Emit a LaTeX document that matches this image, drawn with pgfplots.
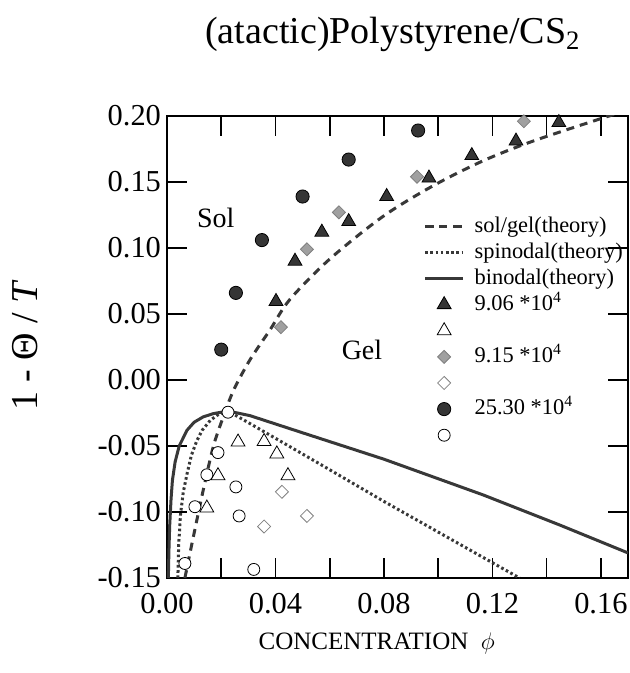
\documentclass[border=0pt]{standalone}
\usepackage{pgfplots}
\pgfplotsset{compat=1.18}
\usepackage{fontspec}
\setmainfont{Liberation Serif}
\definecolor{dk}{HTML}{353535}
\definecolor{ln}{HTML}{383838}
\definecolor{gd}{HTML}{A0A0A0}
\begin{document}
\begin{tikzpicture}
\path[use as bounding box] (-83.5pt,-47.5pt) rectangle (231.5pt,289pt);
\begin{axis}[
  scale only axis, width=230.5pt, height=231pt,
  xmin=0, xmax=0.17, ymin=-0.15, ymax=0.20,
  xtick={0,0.04,0.08,0.12,0.16},
  xticklabels={0.00,0.04,0.08,0.12,0.16},
  minor xtick={0.02,0.06,0.10,0.14},
  ytick={-0.15,-0.10,-0.05,0,0.05,0.10,0.15,0.20},
  yticklabels={-0.15,-0.10,-0.05,0.00,0.05,0.10,0.15,0.20},
  xtick pos=both, ytick pos=both, tick align=inside,
  major tick length=10pt, minor tick length=10pt,
  axis line style={line width=0.8pt},
  every tick/.style={line width=0.8pt, black},
  ticklabel style={font=\fontsize{15.2}{18}\selectfont},
  yticklabel style={xshift=0.5pt},
  xticklabel style={yshift=-4pt},
  title={(atactic)Polystyrene/CS\textsubscript{2}},
  title style={font=\fontsize{19}{22}\selectfont, at={(axis description cs:0.49,1.131)}, anchor=base},
  xlabel={CONCENTRATION\ \ $\phi$},
  xlabel style={font=\fontsize{12.5}{15}\selectfont, at={(axis description cs:0.455,-0.1558)}, anchor=base},
  ylabel={1 - Θ / \textit{T}},
  ylabel style={font=\fontsize{19}{22}\selectfont, at={(axis description cs:-0.308,0.504)}, anchor=center},
  legend image code/.code={\draw[mark repeat=2,mark phase=2,#1] plot coordinates {(0pt,0pt) (9.5pt,0pt) (19pt,0pt)};},
  legend style={draw=none, fill=none, at={(axis cs:0.0945,0.1245)}, anchor=north west,
    font=\fontsize{11.2}{13}\selectfont, inner sep=0pt, row sep=2.86pt, column sep=5pt,
    nodes={inner sep=0pt, text height=8pt, text depth=2.2pt}},
  legend cell align=left,
  clip=true,
]
% theory curves
\addplot[ln, line width=1.5pt, dash pattern=on 4pt off 3pt, smooth] coordinates {
(0.0066,-0.15)(0.0096,-0.12)(0.0133,-0.084)(0.017,-0.051)(0.0203,-0.0305)(0.0245,-0.008)(0.0306,0.0153)(0.038,0.038)(0.0453,0.061)(0.060,0.0916)(0.0797,0.124)(0.098,0.147)(0.1165,0.166)(0.135,0.181)(0.163,0.2)(0.17,0.204)};
\addlegendentry{sol/gel(theory)}
\addplot[ln, line width=1.5pt, dash pattern=on 1.3pt off 1.3pt] coordinates {
(0.004,-0.15)(0.0043,-0.125)(0.005,-0.1015)(0.006,-0.085)(0.0074,-0.071)(0.009,-0.057)(0.011,-0.046)(0.013,-0.038)(0.016,-0.0305)(0.019,-0.026)(0.0225,-0.0235)(0.0306,-0.033)(0.055,-0.062)(0.08,-0.092)(0.105,-0.121)(0.130,-0.150)};
\addlegendentry{spinodal(theory)}
\addplot[ln, line width=1.5pt] coordinates {
(0.0005,-0.15)(0.0007,-0.13)(0.001,-0.11)(0.0015,-0.09)(0.002,-0.076)(0.003,-0.062)(0.0045,-0.05)(0.0074,-0.038)(0.010,-0.032)(0.0133,-0.028)(0.017,-0.0255)(0.0225,-0.0235)(0.0306,-0.027)(0.05,-0.040)(0.08,-0.060)(0.1165,-0.087)(0.145,-0.110)(0.17,-0.131)};
\addlegendentry{binodal(theory)}
% data
\addplot[only marks, mark=triangle*, mark size=4pt, mark options={fill=dk, draw=black, line width=0.4pt}] coordinates {
(0.0402,0.0595)(0.0472,0.090)(0.0571,0.112)(0.067,0.120)(0.081,0.139)(0.0966,0.153)(0.1124,0.170)(0.1287,0.181)(0.1445,0.195)};
\addlegendentry{9.06 *10\textsuperscript{4}}
\addplot[only marks, mark=triangle*, mark size=4pt, mark options={fill=white, draw=black, line width=0.4pt}] coordinates {
(0.0147,-0.097)(0.0188,-0.0725)(0.0262,-0.047)(0.0358,-0.0466)(0.0405,-0.056)(0.0446,-0.0725)};
\addlegendentry{}
\addplot[only marks, mark=square*, mark size=2.3pt, mark options={rotate=45, fill=gd, draw=gray, line width=0.4pt}] coordinates {
(0.042,0.040)(0.0516,0.099)(0.0634,0.127)(0.0922,0.154)(0.1316,0.196)};
\addlegendentry{9.15 *10\textsuperscript{4}}
\addplot[only marks, mark=square*, mark size=2.3pt, mark options={rotate=45, fill=white, draw=gray, line width=0.4pt}] coordinates {
(0.0358,-0.111)(0.0424,-0.0847)(0.0516,-0.103)};
\addlegendentry{}
\addplot[only marks, mark=*, mark size=3.3pt, mark options={fill=dk, draw=black, line width=0.4pt}] coordinates {
(0.020,0.023)(0.0254,0.066)(0.035,0.106)(0.050,0.139)(0.067,0.167)(0.0926,0.189)};
\addlegendentry{25.30 *10\textsuperscript{4}}
\addplot[only marks, mark=*, mark size=3pt, mark options={fill=white, draw=black, line width=0.4pt}] coordinates {
(0.0066,-0.139)(0.0103,-0.096)(0.0147,-0.0718)(0.0188,-0.055)(0.0225,-0.0244)(0.0254,-0.081)(0.0266,-0.103)(0.032,-0.1435)};
\addlegendentry{}
\node[font=\fontsize{14}{16}\selectfont] at (axis cs:0.018,0.123) {Sol};
\node[font=\fontsize{14}{16}\selectfont] at (axis cs:0.0719,0.023) {Gel};
\end{axis}
\end{tikzpicture}
\end{document}
